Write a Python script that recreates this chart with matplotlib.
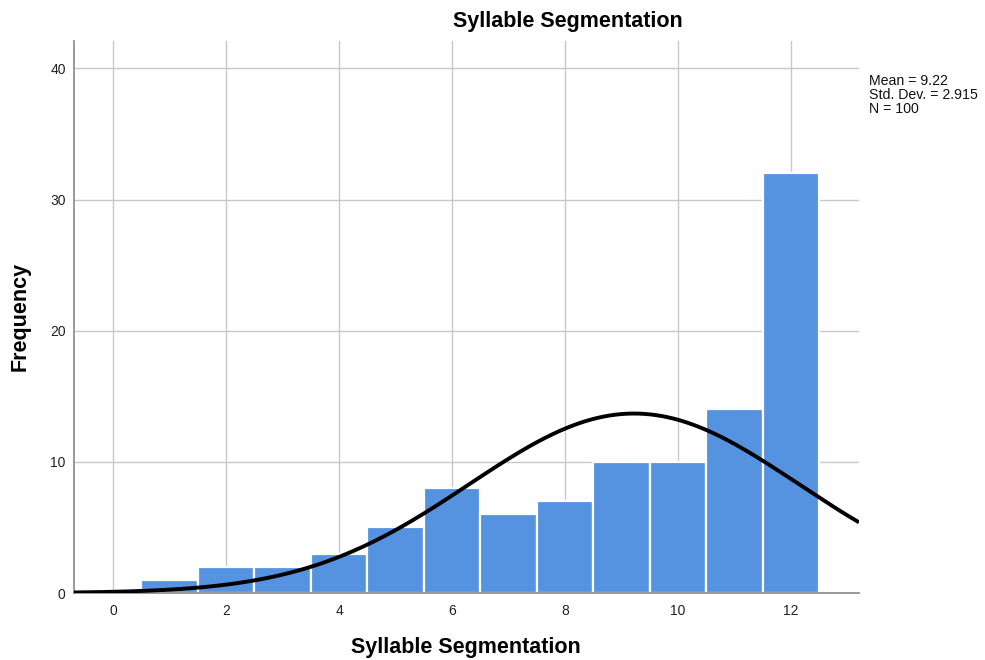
import numpy as np
import matplotlib
matplotlib.use("Agg")
import matplotlib.pyplot as plt

plt.rcParams['font.family'] = ['Liberation Sans', 'DejaVu Sans']

# Histogram bins (score values) and their counts
scores = [1, 2, 3, 4, 5, 6, 7, 8, 9, 10, 11, 12]
counts = [1, 2, 2, 3, 5, 8, 6, 7, 10, 10, 14, 32]
mean_val = 9.22
std_val = 2.915
n_val = 100
x_ticks = [0, 2, 4, 6, 8, 10, 12]
y_ticks = [0, 10, 20, 30, 40]

fig = plt.figure(figsize=(9.85, 6.6), dpi=100)
ax = fig.add_axes([0.0751, 0.1015, 0.797, 0.8365])

grid_c = '#c8c8c8'
for xt in x_ticks:
    ax.axvline(xt, color=grid_c, lw=1.0, zorder=0)
for yt in y_ticks[1:]:
    ax.axhline(yt, color=grid_c, lw=1.0, zorder=0)

ax.bar(scores, counts, width=1.0, color='#5592e0', edgecolor='white',
       linewidth=1.6, zorder=2)

xlo, xhi = -0.69, 13.2
xs = np.linspace(xlo, xhi, 400)
pdf = n_val * 1.0 / (std_val * np.sqrt(2 * np.pi)) * np.exp(-0.5 * ((xs - mean_val) / std_val) ** 2)
ax.plot(xs, pdf, color='black', lw=2.8, zorder=3, solid_capstyle='butt')

ax.set_xlim(xlo, xhi)
ax.set_ylim(0, 42.1)
ax.set_xticks(x_ticks)
ax.set_yticks(y_ticks)
ax.tick_params(length=0, labelsize=10, colors='#222222', pad=8)
ax.tick_params(axis='y', pad=6)

for side in ['top', 'right']:
    ax.spines[side].set_visible(False)
for side in ['left', 'bottom']:
    ax.spines[side].set_color('#888888')
    ax.spines[side].set_linewidth(1.2)

fig.text(568 / 985, 1 - 22 / 660, 'Syllable Segmentation', fontsize=15.5,
         fontweight='bold', ha='center', va='center')
fig.text(466 / 985, 1 - 648 / 660, 'Syllable Segmentation', fontsize=15.5,
         fontweight='bold', ha='center', va='center')
fig.text(20 / 985, 1 - 316 / 660, 'Frequency', fontsize=15.5,
         fontweight='bold', ha='center', va='center', rotation=90)

fig.text(0.8825, 0.8885, f'Mean = {mean_val:.2f}\nStd. Dev. = {std_val:.3f}\nN = {n_val}',
         fontsize=10.2, va='top', ha='left', linespacing=1.0, color='#111111')

fig.savefig('out.png', dpi=100)
